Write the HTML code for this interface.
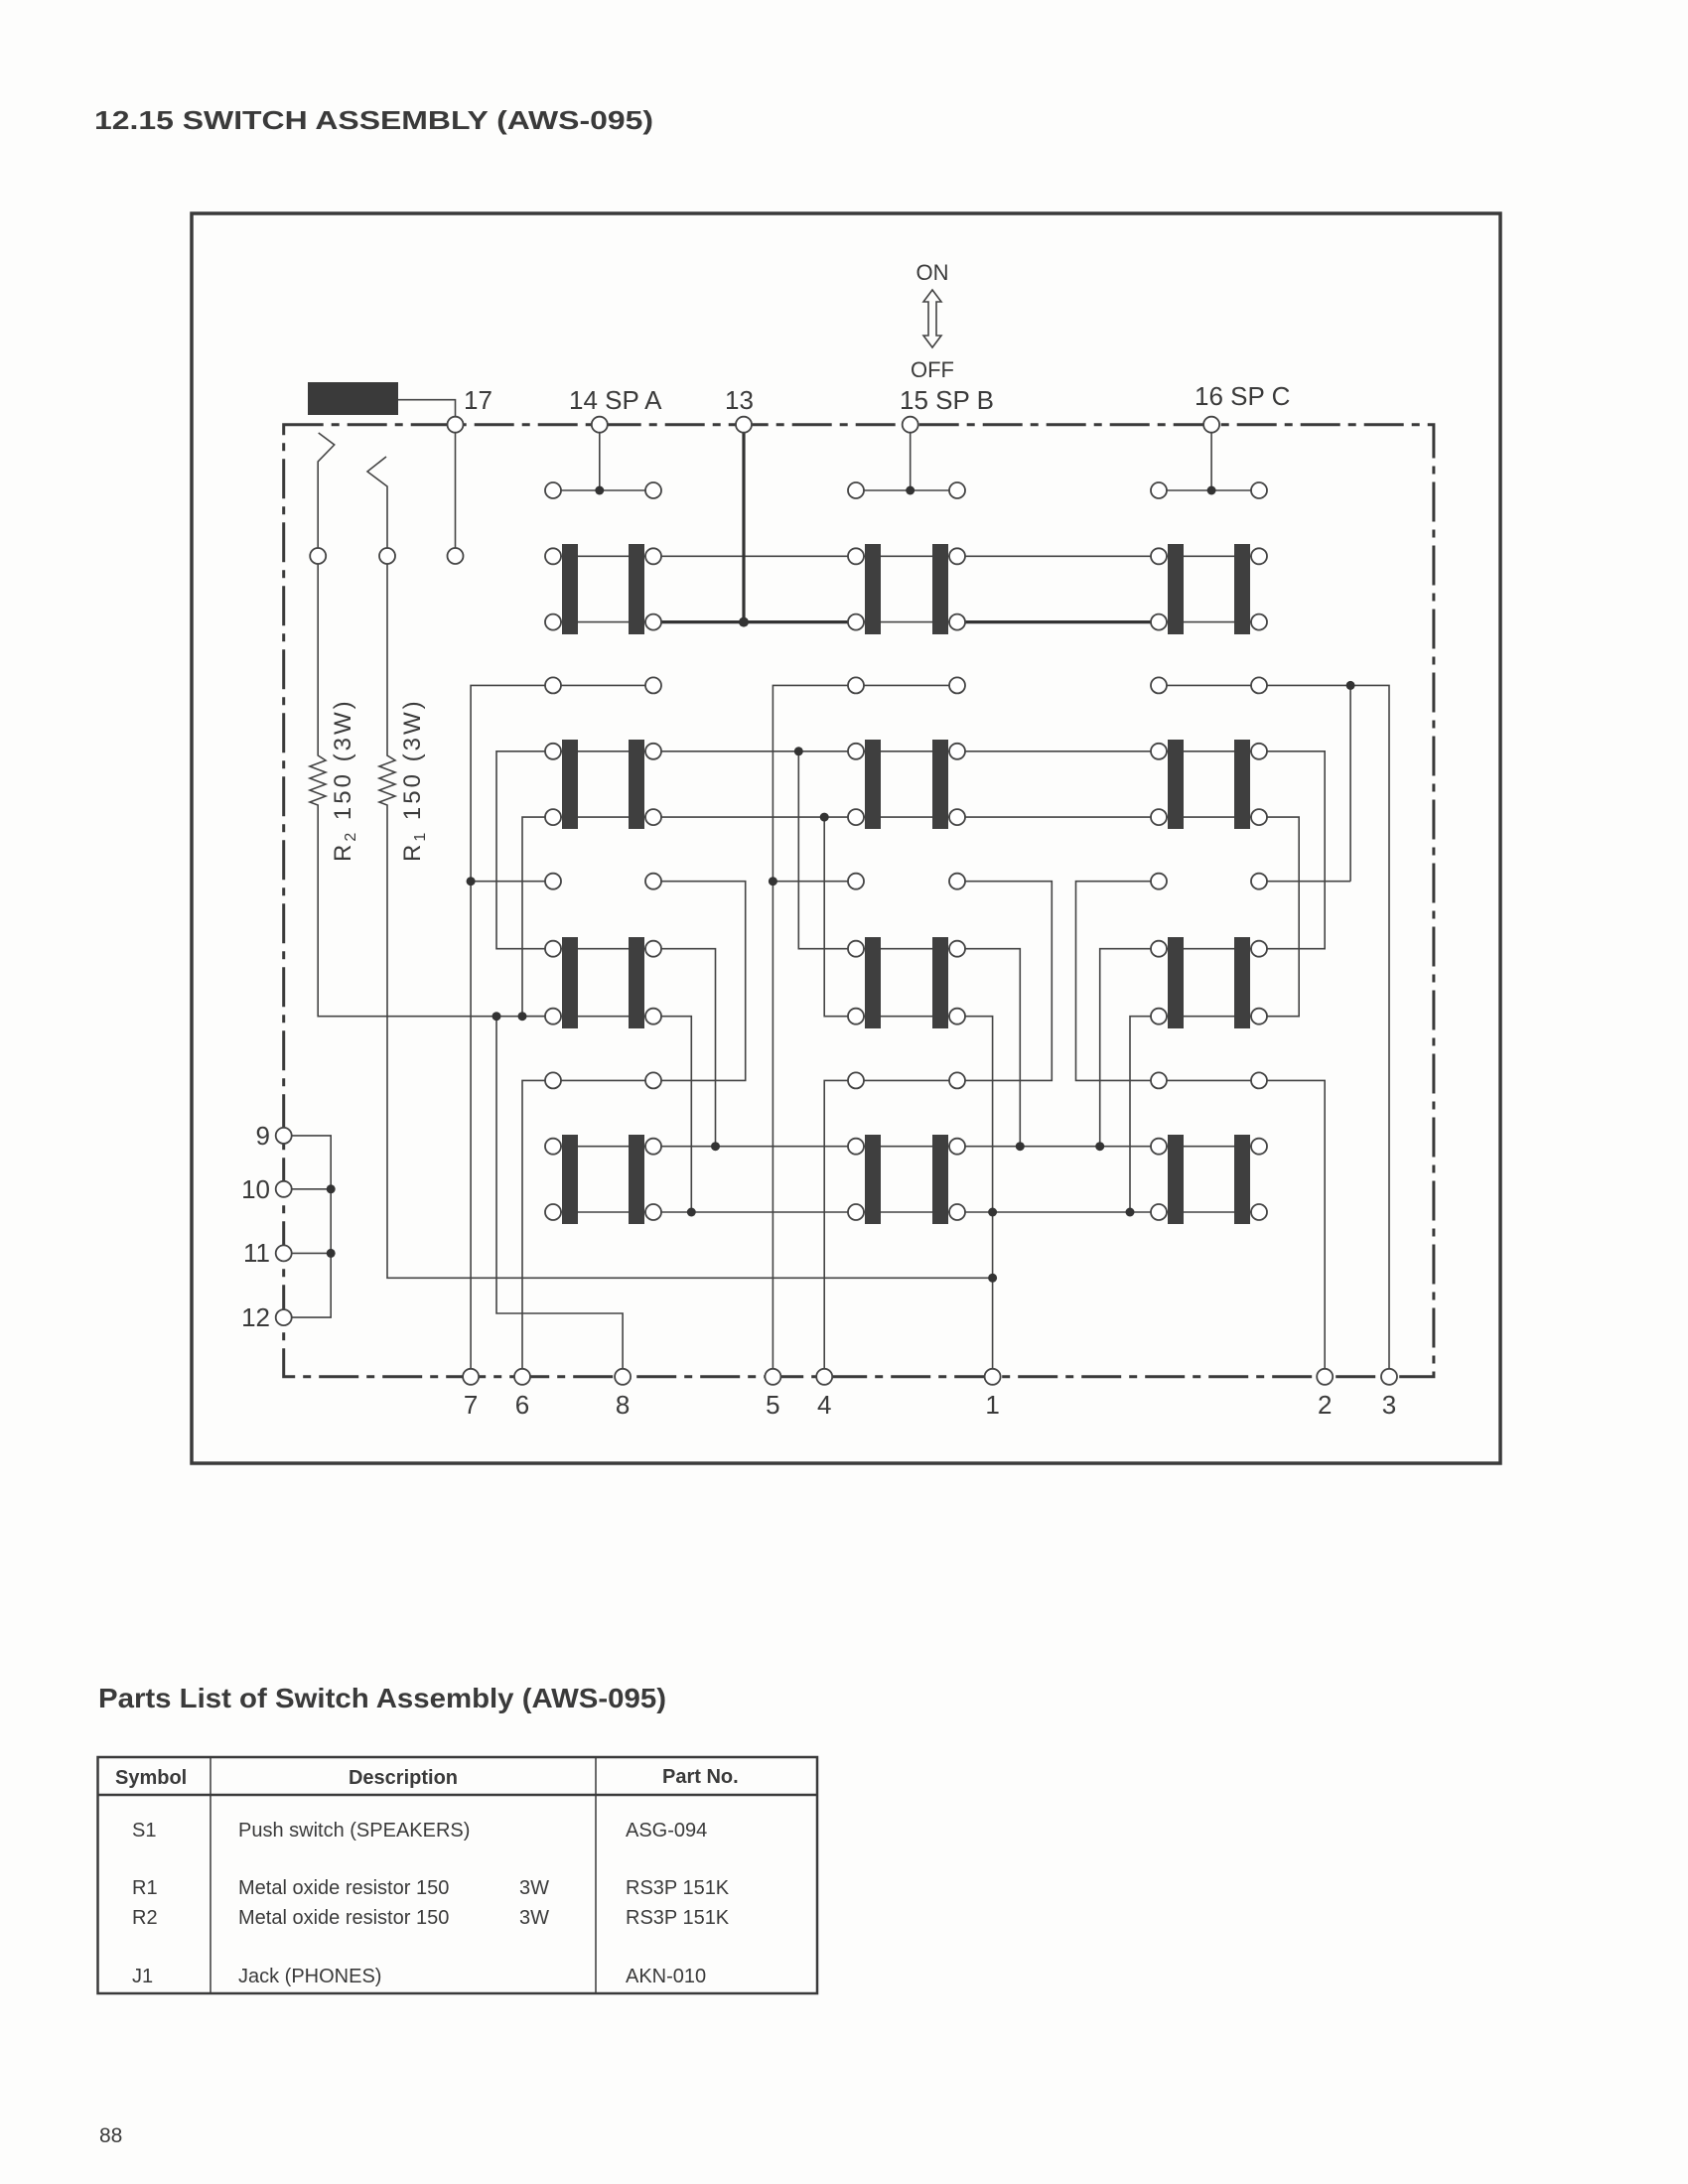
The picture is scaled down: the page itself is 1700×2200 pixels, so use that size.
<!DOCTYPE html>
<html><head><meta charset="utf-8"><style>
html,body{margin:0;padding:0;background:#fdfdfc;}
svg{display:block;}
text{font-family:"Liberation Sans",sans-serif;fill:#3a3a3a;}
</style></head><body>
<svg width="1700" height="2200" viewBox="0 0 1700 2200" xmlns="http://www.w3.org/2000/svg">
<rect width="1700" height="2200" fill="#fdfdfc"/>
<text x="95" y="130" font-size="26" font-weight="bold" textLength="563" lengthAdjust="spacingAndGlyphs">12.15  SWITCH ASSEMBLY (AWS-095)</text>
<rect x="193" y="215" width="1318" height="1259" fill="none" stroke="#3a3a3a" stroke-width="3.5"/>
<rect x="285.7" y="427.7" width="1158.2" height="959.1" fill="none" stroke="#3a3a3a" stroke-width="3" stroke-dasharray="40 8 8 8"/>

<g stroke="#444" stroke-width="1.6" fill="none">
<polyline points="401,402.7 458.5,402.7 458.5,560"/>
<polyline points="320.2,560 320.2,465 336.7,448 320.7,436"/>
<polyline points="390,560 390,490 370,475 389,460"/>
<polyline points="320.2,560 320.2,761 328,766 312,772 328,778 312,784 328,790 312,796 328,802 312,808 320.2,811 320.2,1023.7 557,1023.7"/>
<polyline points="390,560 390,761 398,766 382,772 398,778 382,784 398,790 382,796 398,802 382,808 390,811 390,1287.3 999.6,1287.3"/>
<line x1="603.8" y1="427.7" x2="603.8" y2="494"/>
<line x1="916.7" y1="427.7" x2="916.7" y2="494"/>
<line x1="1220.1" y1="427.7" x2="1220.1" y2="494"/>
<line x1="557" y1="494" x2="658" y2="494"/>
<line x1="862" y1="494" x2="964" y2="494"/>
<line x1="1167" y1="494" x2="1268" y2="494"/>
<line x1="557" y1="560.3" x2="1268" y2="560.3"/>
<line x1="557" y1="626.6" x2="658" y2="626.6"/>
<line x1="862" y1="626.6" x2="964" y2="626.6"/>
<line x1="1167" y1="626.6" x2="1268" y2="626.6"/>
<polyline points="474.1,1386.8 474.1,690.4 658,690.4"/>
<polyline points="778.4,1386.8 778.4,690.4 964,690.4"/>
<polyline points="1167,690.4 1399,690.4 1399,1386.8"/>
<line x1="1360.1" y1="690.4" x2="1360.1" y2="887.7"/>
<polyline points="557,955.7 500,955.7 500,756.8 1334.2,756.8 1334.2,955.7 1268,955.7"/>
<polyline points="557,1023.7 526,1023.7 526,823.1 1308.2,823.1 1308.2,1023.7 1268,1023.7"/>
<line x1="474.1" y1="887.7" x2="557" y2="887.7"/>
<polyline points="658,887.7 750.7,887.7 750.7,1088.4 557,1088.4"/>
<line x1="778.4" y1="887.7" x2="862" y2="887.7"/>
<polyline points="964,887.7 1059.3,887.7 1059.3,1088.4 862,1088.4"/>
<polyline points="1167,887.7 1083.5,887.7 1083.5,1088.4 1268,1088.4"/>
<line x1="1268" y1="887.7" x2="1360.1" y2="887.7"/>
<line x1="557" y1="955.7" x2="658" y2="955.7"/>
<polyline points="658,955.7 720.5,955.7 720.5,1154.7"/>
<polyline points="804.3,756.8 804.3,955.7 964,955.7 1027.3,955.7 1027.3,1154.7"/>
<polyline points="1107.7,1154.7 1107.7,955.7 1268,955.7"/>
<line x1="557" y1="1023.7" x2="658" y2="1023.7"/>
<polyline points="658,1023.7 696.3,1023.7 696.3,1221"/>
<polyline points="830.2,823.1 830.2,1023.7 964,1023.7 999.6,1023.7 999.6,1386.8"/>
<polyline points="1138,1221 1138,1023.7 1268,1023.7"/>
<polyline points="526,1386.8 526,1088.4 557,1088.4"/>
<polyline points="830.2,1386.8 830.2,1088.4 862,1088.4"/>
<polyline points="1268,1088.4 1334.2,1088.4 1334.2,1386.8"/>
<line x1="557" y1="1154.7" x2="1268" y2="1154.7"/>
<line x1="557" y1="1221" x2="1268" y2="1221"/>
<polyline points="500,1023.7 500,1323 627.1,1323 627.1,1386.8"/>
<polyline points="285.7,1143.9 333.2,1143.9 333.2,1327.1 285.7,1327.1"/>
<line x1="285.7" y1="1197.8" x2="333.2" y2="1197.8"/>
<line x1="285.7" y1="1262.4" x2="333.2" y2="1262.4"/>
</g>
<g stroke="#333" stroke-width="3.2" fill="none">
<line x1="749" y1="427.7" x2="749" y2="626.6"/>
<line x1="658" y1="626.6" x2="862" y2="626.6"/>
<line x1="964" y1="626.6" x2="1167" y2="626.6"/>
</g>
<rect x="310" y="385" width="91" height="33" fill="#3a3a3a"/>

<g fill="#3f3f3f">
<rect x="566" y="548" width="16" height="91"/><rect x="633" y="548" width="16" height="91"/>
<rect x="871" y="548" width="16" height="91"/><rect x="939" y="548" width="16" height="91"/>
<rect x="1176" y="548" width="16" height="91"/><rect x="1243" y="548" width="16" height="91"/>
<rect x="566" y="745" width="16" height="90"/><rect x="633" y="745" width="16" height="90"/>
<rect x="871" y="745" width="16" height="90"/><rect x="939" y="745" width="16" height="90"/>
<rect x="1176" y="745" width="16" height="90"/><rect x="1243" y="745" width="16" height="90"/>
<rect x="566" y="944" width="16" height="92"/><rect x="633" y="944" width="16" height="92"/>
<rect x="871" y="944" width="16" height="92"/><rect x="939" y="944" width="16" height="92"/>
<rect x="1176" y="944" width="16" height="92"/><rect x="1243" y="944" width="16" height="92"/>
<rect x="566" y="1143" width="16" height="90"/><rect x="633" y="1143" width="16" height="90"/>
<rect x="871" y="1143" width="16" height="90"/><rect x="939" y="1143" width="16" height="90"/>
<rect x="1176" y="1143" width="16" height="90"/><rect x="1243" y="1143" width="16" height="90"/>
</g>

<g fill="#fff" stroke="#444" stroke-width="1.8">
<circle cx="458.5" cy="427.7" r="8"/><circle cx="603.8" cy="427.7" r="8"/><circle cx="749" cy="427.7" r="8"/>
<circle cx="916.7" cy="427.7" r="8"/><circle cx="1220.1" cy="427.7" r="8"/>
<circle cx="320.2" cy="560" r="8"/><circle cx="390" cy="560" r="8"/><circle cx="458.5" cy="560" r="8"/>
<circle cx="474.1" cy="1386.8" r="8"/><circle cx="526" cy="1386.8" r="8"/><circle cx="627.1" cy="1386.8" r="8"/>
<circle cx="778.4" cy="1386.8" r="8"/><circle cx="830.2" cy="1386.8" r="8"/><circle cx="999.6" cy="1386.8" r="8"/>
<circle cx="1334.2" cy="1386.8" r="8"/><circle cx="1399" cy="1386.8" r="8"/>
<circle cx="285.7" cy="1143.9" r="8"/><circle cx="285.7" cy="1197.8" r="8"/><circle cx="285.7" cy="1262.4" r="8"/><circle cx="285.7" cy="1327.1" r="8"/>
</g>
<g fill="#fff" stroke="#444" stroke-width="1.8">
<circle cx="557" cy="494" r="8"/><circle cx="658" cy="494" r="8"/><circle cx="862" cy="494" r="8"/><circle cx="964" cy="494" r="8"/><circle cx="1167" cy="494" r="8"/><circle cx="1268" cy="494" r="8"/>
<circle cx="557" cy="560.3" r="8"/><circle cx="658" cy="560.3" r="8"/><circle cx="862" cy="560.3" r="8"/><circle cx="964" cy="560.3" r="8"/><circle cx="1167" cy="560.3" r="8"/><circle cx="1268" cy="560.3" r="8"/>
<circle cx="557" cy="626.6" r="8"/><circle cx="658" cy="626.6" r="8"/><circle cx="862" cy="626.6" r="8"/><circle cx="964" cy="626.6" r="8"/><circle cx="1167" cy="626.6" r="8"/><circle cx="1268" cy="626.6" r="8"/>
<circle cx="557" cy="690.4" r="8"/><circle cx="658" cy="690.4" r="8"/><circle cx="862" cy="690.4" r="8"/><circle cx="964" cy="690.4" r="8"/><circle cx="1167" cy="690.4" r="8"/><circle cx="1268" cy="690.4" r="8"/>
<circle cx="557" cy="756.8" r="8"/><circle cx="658" cy="756.8" r="8"/><circle cx="862" cy="756.8" r="8"/><circle cx="964" cy="756.8" r="8"/><circle cx="1167" cy="756.8" r="8"/><circle cx="1268" cy="756.8" r="8"/>
<circle cx="557" cy="823.1" r="8"/><circle cx="658" cy="823.1" r="8"/><circle cx="862" cy="823.1" r="8"/><circle cx="964" cy="823.1" r="8"/><circle cx="1167" cy="823.1" r="8"/><circle cx="1268" cy="823.1" r="8"/>
<circle cx="557" cy="887.7" r="8"/><circle cx="658" cy="887.7" r="8"/><circle cx="862" cy="887.7" r="8"/><circle cx="964" cy="887.7" r="8"/><circle cx="1167" cy="887.7" r="8"/><circle cx="1268" cy="887.7" r="8"/>
<circle cx="557" cy="955.7" r="8"/><circle cx="658" cy="955.7" r="8"/><circle cx="862" cy="955.7" r="8"/><circle cx="964" cy="955.7" r="8"/><circle cx="1167" cy="955.7" r="8"/><circle cx="1268" cy="955.7" r="8"/>
<circle cx="557" cy="1023.7" r="8"/><circle cx="658" cy="1023.7" r="8"/><circle cx="862" cy="1023.7" r="8"/><circle cx="964" cy="1023.7" r="8"/><circle cx="1167" cy="1023.7" r="8"/><circle cx="1268" cy="1023.7" r="8"/>
<circle cx="557" cy="1088.4" r="8"/><circle cx="658" cy="1088.4" r="8"/><circle cx="862" cy="1088.4" r="8"/><circle cx="964" cy="1088.4" r="8"/><circle cx="1167" cy="1088.4" r="8"/><circle cx="1268" cy="1088.4" r="8"/>
<circle cx="557" cy="1154.7" r="8"/><circle cx="658" cy="1154.7" r="8"/><circle cx="862" cy="1154.7" r="8"/><circle cx="964" cy="1154.7" r="8"/><circle cx="1167" cy="1154.7" r="8"/><circle cx="1268" cy="1154.7" r="8"/>
<circle cx="557" cy="1221" r="8"/><circle cx="658" cy="1221" r="8"/><circle cx="862" cy="1221" r="8"/><circle cx="964" cy="1221" r="8"/><circle cx="1167" cy="1221" r="8"/><circle cx="1268" cy="1221" r="8"/>
</g>
<g fill="#333">
<circle cx="603.8" cy="494" r="4.5"/><circle cx="916.7" cy="494" r="4.5"/><circle cx="1220.1" cy="494" r="4.5"/>
<circle cx="749" cy="626.6" r="5"/>
<circle cx="1360.1" cy="690.4" r="4.5"/>
<circle cx="804.3" cy="756.8" r="4.5"/><circle cx="830.2" cy="823.1" r="4.5"/>
<circle cx="474.1" cy="887.7" r="4.5"/><circle cx="778.4" cy="887.7" r="4.5"/>
<circle cx="500" cy="1023.7" r="4.5"/><circle cx="526" cy="1023.7" r="4.5"/>
<circle cx="720.5" cy="1154.7" r="4.5"/><circle cx="1027.3" cy="1154.7" r="4.5"/><circle cx="1107.7" cy="1154.7" r="4.5"/>
<circle cx="696.3" cy="1221" r="4.5"/><circle cx="999.6" cy="1221" r="4.5"/><circle cx="1138" cy="1221" r="4.5"/>
<circle cx="999.6" cy="1287.3" r="4.5"/>
<circle cx="333.2" cy="1197.8" r="4.5"/><circle cx="333.2" cy="1262.4" r="4.5"/>
</g>

<text x="939" y="282" font-size="22" text-anchor="middle">ON</text>
<path d="M939,292 L948,304 L943,304 L943,338 L948,338 L939,350 L930,338 L935,338 L935,304 L930,304 Z" fill="none" stroke="#444" stroke-width="1.6"/>
<text x="939" y="380" font-size="22" text-anchor="middle">OFF</text>

<g font-size="26">
<text x="467" y="412">17</text>
<text x="573" y="412">14  SP A</text>
<text x="730" y="412">13</text>
<text x="906" y="412">15  SP B</text>
<text x="1203" y="408">16  SP C</text>
</g>
<g font-size="26" text-anchor="middle">
<text x="474.1" y="1424">7</text><text x="526" y="1424">6</text><text x="627.1" y="1424">8</text>
<text x="778.4" y="1424">5</text><text x="830.2" y="1424">4</text><text x="999.6" y="1424">1</text>
<text x="1334.2" y="1424">2</text><text x="1399" y="1424">3</text>
</g>
<g font-size="26" text-anchor="end">
<text x="272" y="1153">9</text><text x="272" y="1207">10</text><text x="272" y="1271">11</text><text x="272" y="1336">12</text>
</g>
<text transform="translate(353,868) rotate(-90)" font-size="24" letter-spacing="3">R<tspan font-size="16" dy="5">2</tspan><tspan dy="-5"> 150  (3W)</tspan></text>
<text transform="translate(423,868) rotate(-90)" font-size="24" letter-spacing="3">R<tspan font-size="16" dy="5">1</tspan><tspan dy="-5"> 150  (3W)</tspan></text>

<text x="99" y="1720" font-size="28" font-weight="bold" textLength="572" lengthAdjust="spacingAndGlyphs">Parts List of Switch Assembly (AWS-095)</text>
<rect x="98.5" y="1770" width="724.5" height="238" fill="none" stroke="#3a3a3a" stroke-width="2.5"/>
<line x1="98.5" y1="1808" x2="823" y2="1808" stroke="#3a3a3a" stroke-width="2.5"/>
<line x1="212" y1="1770" x2="212" y2="2008" stroke="#3a3a3a" stroke-width="1.5"/>
<line x1="600" y1="1770" x2="600" y2="2008" stroke="#3a3a3a" stroke-width="1.5"/>
<g font-size="20" font-weight="bold">
<text x="116" y="1797">Symbol</text>
<text x="406" y="1797" text-anchor="middle">Description</text>
<text x="667" y="1796">Part No.</text>
</g>
<g font-size="20">
<text x="133" y="1850">S1</text><text x="240" y="1850">Push switch (SPEAKERS)</text><text x="630" y="1850">ASG-094</text>
<text x="133" y="1908">R1</text><text x="240" y="1908">Metal oxide resistor 150</text><text x="523" y="1908">3W</text><text x="630" y="1908">RS3P 151K</text>
<text x="133" y="1938">R2</text><text x="240" y="1938">Metal oxide resistor 150</text><text x="523" y="1938">3W</text><text x="630" y="1938">RS3P 151K</text>
<text x="133" y="1997">J1</text><text x="240" y="1997">Jack (PHONES)</text><text x="630" y="1997">AKN-010</text>
</g>
<text x="100" y="2158" font-size="21">88</text>
</svg>
</body></html>
